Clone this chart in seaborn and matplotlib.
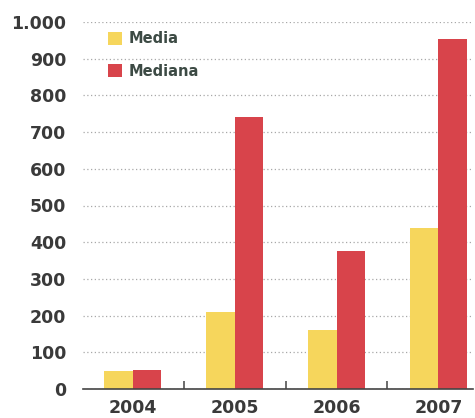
import matplotlib
matplotlib.use("Agg")
import matplotlib.pyplot as plt
import seaborn as sns
import pandas as pd
from matplotlib.ticker import FixedLocator, FuncFormatter

years = ["2004", "2005", "2006", "2007"]
media = [48, 210, 160, 438]
mediana = [52, 742, 376, 954]
series_names = ["Media", "Mediana"]
yticks = [0, 100, 200, 300, 400, 500, 600, 700, 800, 900, 1000]

df = pd.DataFrame({
    "year": years * 2,
    "value": media + mediana,
    "serie": [series_names[0]] * len(years) + [series_names[1]] * len(years),
})

sns.set_theme(style="white")
plt.rcParams["font.family"] = ["DejaVu Sans"]

fig = plt.figure(figsize=(4.75, 4.18), dpi=100)
ax = fig.add_axes([83 / 475, 29 / 418, (473 - 83) / 475, (389 - 22) / 418])

palette = {"Media": "#F6D65C", "Mediana": "#D8444B"}
sns.barplot(data=df, x="year", y="value", hue="serie", palette=palette,
            width=0.56, saturation=1, ax=ax, edgecolor="none")

ax.set_xlim(-0.49, 3.34)
ax.set_ylim(0, 1000)
ax.set_xlabel("")
ax.set_ylabel("")

ax.yaxis.set_major_locator(FixedLocator(yticks))
ax.yaxis.set_major_formatter(FuncFormatter(lambda v, p: f"{int(v):,}".replace(",", ".")))
ax.grid(axis="y", color="#a8a8a8", linestyle=(0, (1, 2)), linewidth=0.9)
ax.set_axisbelow(True)

for s in ["left", "right", "top"]:
    ax.spines[s].set_visible(False)
ax.spines["bottom"].set_color("#444444")
ax.spines["bottom"].set_linewidth(1.2)

ax.tick_params(axis="y", length=0, pad=12, labelsize=12.5, labelcolor="#3a3a3a")
ax.tick_params(axis="x", which="major", length=0, pad=7, labelsize=12.5, labelcolor="#3a3a3a")
ax.set_xticks([0.5, 1.5, 2.5], minor=True)
ax.tick_params(axis="x", which="minor", bottom=True, direction="in", length=6,
               width=1.1, color="#444444")
for lab in ax.get_yticklabels() + ax.get_xticklabels():
    lab.set_fontweight("bold")

leg = ax.legend(loc="upper left", bbox_to_anchor=(0.03, 1.01), frameon=False,
                handlelength=1.0, handleheight=1.0, handletextpad=0.4,
                labelspacing=1.2, prop={"size": 10.5, "weight": "bold"})
for t in leg.get_texts():
    t.set_color("#3c4a44")

fig.savefig("out.png", dpi=100)
